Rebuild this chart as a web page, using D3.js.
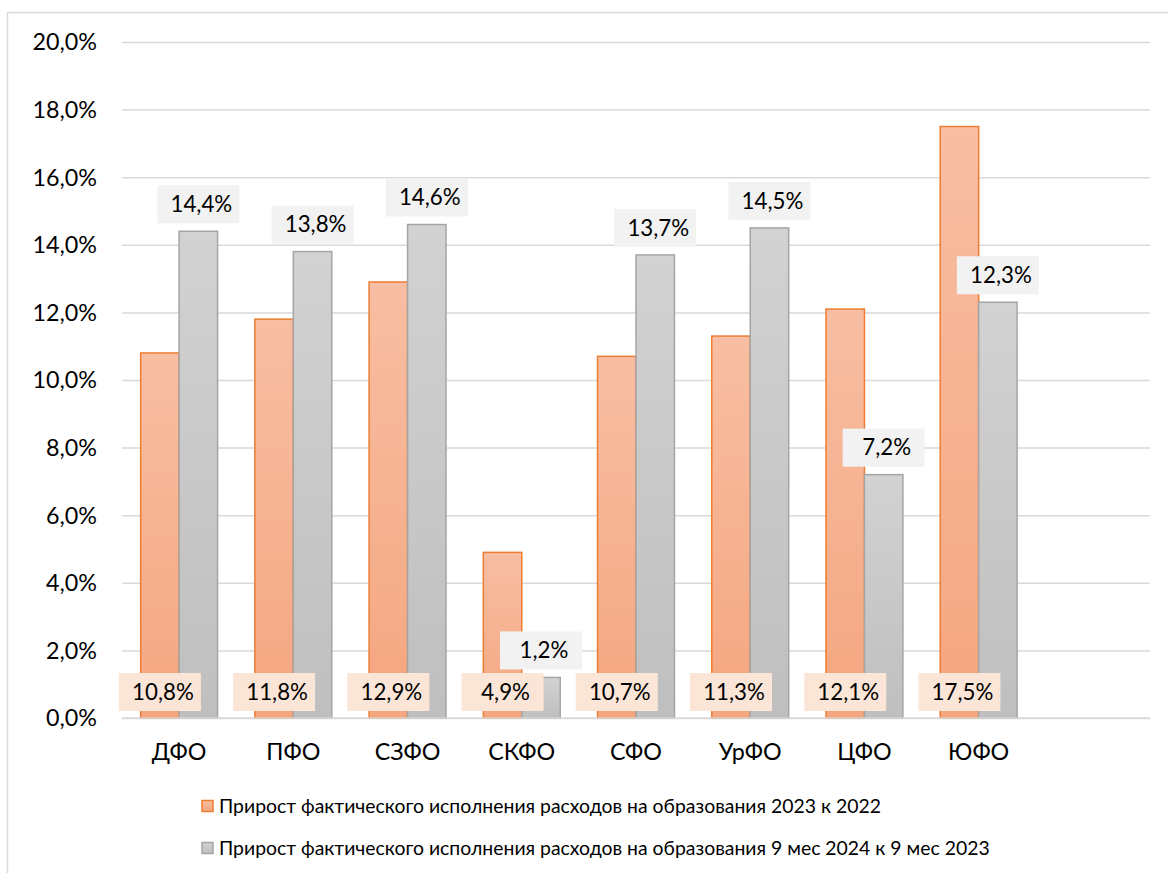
<!DOCTYPE html>
<html><head><meta charset="utf-8">
<script src="https://cdn.jsdelivr.net/npm/d3@7"></script>
<style>body{margin:0;background:#fff}svg{display:block}text{font-family:Lato,"Noto Sans",sans-serif;fill:#000}</style>
</head><body><svg id="c" width="1168" height="873"></svg>
<script>
const categories = ["ДФО","ПФО","СЗФО","СКФО","СФО","УрФО","ЦФО","ЮФО"];
const series2023 = [10.8, 11.8, 12.9, 4.9, 10.7, 11.3, 12.1, 17.5];
const series2024 = [14.4, 13.8, 14.6, 1.2, 13.7, 14.5, 7.2, 12.3];
const seriesNames = ["Прирост фактического исполнения расходов на образования 2023 к 2022",
  "Прирост фактического исполнения расходов на образования 9 мес 2024 к 9 мес 2023"];
const yTicks = [0,2,4,6,8,10,12,14,16,18,20];

const svg = d3.select("#c");
const fmt = v => d3.format(".1f")(v).replace(".", ",") + "%";

const defs = svg.append("defs");
const g1 = defs.append("linearGradient").attr("id","gO").attr("x1",0).attr("y1",0).attr("x2",0).attr("y2",1);
g1.append("stop").attr("offset","0%").attr("stop-color","#f8bea3");
g1.append("stop").attr("offset","100%").attr("stop-color","#f4a67f");
const g2 = defs.append("linearGradient").attr("id","gG").attr("x1",0).attr("y1",0).attr("x2",0).attr("y2",1);
g2.append("stop").attr("offset","0%").attr("stop-color","#d2d2d2");
g2.append("stop").attr("offset","100%").attr("stop-color","#bfbfbf");

// chart border
svg.append("rect").attr("x",7.5).attr("y",12.5).attr("width",1200).attr("height",900)
  .attr("fill","none").attr("stroke","#d9d9d9").attr("stroke-width",1.5);

const x0 = 122, x1 = 1150;
const y = d3.scaleLinear().domain([0,20]).range([718,42]);
const slots = categories.concat([""]);
const x = d3.scaleBand().domain(slots.map((d,i)=>i)).range([x0,x1]).paddingInner(0).paddingOuter(0);
const bw = x.bandwidth()/(2+0.97);

// grid
const yAxis = d3.axisLeft(y).tickValues(yTicks).tickSize(-(x1-x0)).tickFormat(fmt);
const ga = svg.append("g").attr("transform",`translate(${x0},0)`).call(yAxis);
ga.select(".domain").remove();
ga.selectAll(".tick line").attr("stroke","#d9d9d9").attr("stroke-width",1.5);
ga.selectAll(".tick text").attr("x",-25).attr("font-size",23.3).attr("fill","#000").attr("dy","0.34em")
  .style("font-family","Lato");

// bars
const groups = svg.append("g").selectAll("g").data(categories).join("g")
  .attr("transform",(d,i)=>`translate(${x(i)+x.bandwidth()/2},0)`);
groups.append("rect").attr("x",-bw).attr("width",bw)
  .attr("y",(d,i)=>y(series2023[i])).attr("height",(d,i)=>y(0)-y(series2023[i]))
  .attr("fill","url(#gO)").attr("stroke","#ed7d31").attr("stroke-width",1.5);
groups.append("rect").attr("x",0).attr("width",bw)
  .attr("y",(d,i)=>y(series2024[i])).attr("height",(d,i)=>y(0)-y(series2024[i]))
  .attr("fill","url(#gG)").attr("stroke","#a5a5a5").attr("stroke-width",1.5);

// baseline
svg.append("line").attr("x1",x0).attr("x2",x1).attr("y1",y(0)).attr("y2",y(0))
  .attr("stroke","#d9d9d9").attr("stroke-width",1.5);

// labels
const lw = 82, lh = 38;
groups.each(function(d,i){
  const g = d3.select(this);
  const cx = bw/2, top = y(series2024[i]) - 8 - lh;
  g.append("rect").attr("x",cx-lw/2).attr("y",top).attr("width",lw).attr("height",lh).attr("fill","#f2f2f2");
  g.append("text").attr("x",cx+3).attr("y",top+lh/2).attr("dy","0.35em").attr("text-anchor","middle")
    .attr("font-size",22.3).text(fmt(series2024[i]));
  const cx2 = -bw/2, top2 = y(0) - 7 - lh;
  g.append("rect").attr("x",cx2-lw/2).attr("y",top2).attr("width",lw).attr("height",lh).attr("fill","#fbe5d6");
  g.append("text").attr("x",cx2+3).attr("y",top2+lh/2).attr("dy","0.35em").attr("text-anchor","middle")
    .attr("font-size",22.3).text(fmt(series2023[i]));
});

// x labels
svg.append("g").selectAll("text").data(categories).join("text")
  .attr("x",(d,i)=>x(i)+x.bandwidth()/2).attr("y",752).attr("dy","0.35em")
  .attr("text-anchor","middle").attr("font-size",23.3).text(d=>d);

// legend
const leg = svg.append("g");
[["url(#gO)","#ed7d31"],["url(#gG)","#a5a5a5"]].forEach((c,i)=>{
  const yy = 806 + i*42;
  leg.append("rect").attr("x",202).attr("y",yy-5.5).attr("width",11).attr("height",11)
    .attr("fill",c[0]).attr("stroke",c[1]).attr("stroke-width",1.5);
  leg.append("text").attr("x",219).attr("y",yy).attr("dy","0.35em").attr("font-size",19.4).text(seriesNames[i]);
});
</script></body></html>
